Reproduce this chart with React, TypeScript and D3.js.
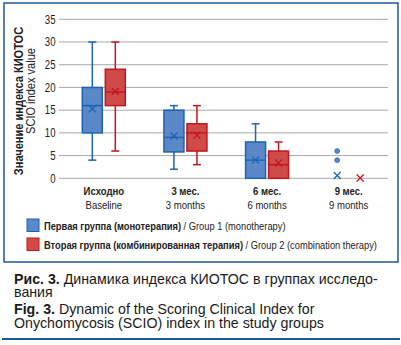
import React from "react";
import * as d3 from "d3";

const categoriesRu = ["Исходно", "3 мес.", "6 мес.", "9 мес."];
const categoriesEn = ["Baseline", "3 months", "6 months", "9 months"];
const groups = ["g1", "g2"];
// [min, q1, median, q3, max, mean]
const group1Stats = [
  [4, 10, 16, 20, 30, 15.3],
  [2, 5.8, 9, 15, 16, 9.3],
  [0, 0, 4, 8, 12, 4],
  [0, 0, 0, 0, 0, 0.6],
];
const group2Stats = [
  [6, 16, 19, 24, 30, 19.1],
  [3, 6, 10, 12, 16, 9.5],
  [0, 0, 3, 6, 8, 3.4],
  [0, 0, 0, 0, 0, 0.05],
];
const group1Outliers = [[], [], [], [6, 4]];
const group2Outliers = [[], [], [], []];
const yTicks = [0, 5, 10, 15, 20, 25, 30, 35];
const legendLabelsBold = ["Первая группа (монотерапия)", "Вторая группа (комбинированная терапия)"];
const legendLabelsReg = [" / Group 1 (monotherapy)", " / Group 2 (combination therapy)"];

const FILL = ["#5a88c9", "#cf4b47"];
const STROKE = ["#1e64b0", "#c3161f"];
const SANS = "'Liberation Sans', Arial, Helvetica, sans-serif";

function CText(props: { x: number; y: number; anchor?: string; bold?: boolean; size?: number; rotate?: number; sx?: number; children: any }) {
  const { x, y, anchor = "start", bold = false, size = 11.5, rotate = 0, sx = 0.83, children } = props;
  return (
    <text
      transform={`translate(${x},${y}) rotate(${rotate}) scale(${sx},1)`}
      textAnchor={anchor}
      fontFamily={SANS}
      fontWeight={bold ? "bold" : "normal"}
      fontSize={size}
      fill="#222"
    >
      {children}
    </text>
  );
}

export default function App() {
  const W = 401, H = 345;
  const y = d3.scaleLinear().domain([0, 35]).range([178.3, 19.3]);
  const x = d3.scaleBand().domain(categoriesRu).range([63, 389.5]);
  const bw = x.bandwidth();
  const boxW = 20;
  const off = [-11.5, 11.5];
  const stats = [group1Stats, group2Stats];
  const outs = [group1Outliers, group2Outliers];

  return (
    <svg width={W} height={H} style={{ position: "absolute", left: 0, top: 0, background: "#fff" }}>
      <rect x={4} y={3} width={394} height={259} fill="none" stroke="#1f5797" strokeWidth={1.5} />
      {yTicks.map((t) => (
        <g key={t}>
          <line x1={59} x2={388} y1={y(t)} y2={y(t)} stroke="#a9a9a9" strokeWidth={1} />
          <CText x={55.5} y={y(t) + 4.2} anchor="end" size={12} sx={0.8}>{t}</CText>
        </g>
      ))}
      <CText x={22.5} y={101} anchor="middle" bold rotate={-90} size={13} sx={0.85}>Значение индекса КИОТОС</CText>
      <CText x={35} y={91} anchor="middle" rotate={-90} size={13} sx={0.85}>SCIO index value</CText>
      {categoriesRu.map((c, i) => {
        const cx = (x(c) as number) + bw / 2;
        return (
          <g key={c}>
            <CText x={cx} y={195} anchor="middle" bold>{c}</CText>
            <CText x={cx} y={209} anchor="middle">{categoriesEn[i]}</CText>
            {groups.map((g, gi) => {
              const [mn, q1, med, q3, mx, mean] = stats[gi][i];
              const bx = cx + off[gi];
              const hasBox = q3 > q1;
              return (
                <g key={g}>
                  {hasBox && (
                    <>
                      <line x1={bx} x2={bx} y1={y(mx)} y2={y(q3)} stroke={STROKE[gi]} strokeWidth={1.5} />
                      <line x1={bx} x2={bx} y1={y(q1)} y2={y(mn)} stroke={STROKE[gi]} strokeWidth={1.5} />
                      <line x1={bx - 4} x2={bx + 4} y1={y(mx)} y2={y(mx)} stroke={STROKE[gi]} strokeWidth={1.5} />
                      <line x1={bx - 4} x2={bx + 4} y1={y(mn)} y2={y(mn)} stroke={STROKE[gi]} strokeWidth={1.5} />
                      <rect x={bx - boxW / 2} y={y(q3)} width={boxW} height={y(q1) - y(q3)} fill={FILL[gi]} stroke={STROKE[gi]} strokeWidth={1.5} />
                      <line x1={bx - boxW / 2} x2={bx + boxW / 2} y1={y(med)} y2={y(med)} stroke={STROKE[gi]} strokeWidth={1.5} />
                    </>
                  )}
                  <path
                    d={`M${bx - 3.5},${y(mean) - 3.5}L${bx + 3.5},${y(mean) + 3.5}M${bx - 3.5},${y(mean) + 3.5}L${bx + 3.5},${y(mean) - 3.5}`}
                    stroke={STROKE[gi]}
                    strokeWidth={1.3}
                    fill="none"
                  />
                  {outs[gi][i].map((v, k) => (
                    <circle key={k} cx={bx} cy={y(v)} r={2.4} fill={FILL[gi]} stroke={STROKE[gi]} strokeWidth={0.8} />
                  ))}
                </g>
              );
            })}
          </g>
        );
      })}
      {legendLabelsBold.map((l, i) => (
        <g key={l} transform={`translate(27,${219 + i * 19})`}>
          <rect x={0} y={0} width={12} height={12.5} fill={FILL[i]} stroke={STROKE[i]} strokeWidth={1} />
          <CText x={17} y={11} sx={0.81}>
            <tspan fontWeight="bold">{l}</tspan>
            <tspan>{legendLabelsReg[i]}</tspan>
          </CText>
        </g>
      ))}
      <text x={14} y={283.5} fontFamily={SANS} fontSize={14.2} fill="#1a1a1a">
        <tspan fontWeight="bold">Рис. 3.</tspan>
        <tspan> Динамика индекса КИОТОС в группах исследо-</tspan>
      </text>
      <text x={14} y={297} fontFamily={SANS} fontSize={14.2} fill="#1a1a1a">вания</text>
      <text x={14} y={314} fontFamily={SANS} fontSize={14.2} fill="#1a1a1a">
        <tspan fontWeight="bold">Fig. 3.</tspan>
        <tspan> Dynamic of the Scoring Clinical Index for</tspan>
      </text>
      <text x={14} y={327.5} fontFamily={SANS} fontSize={14.2} fill="#1a1a1a">Onychomycosis (SCIO) index in the study groups</text>
      <line x1={2} x2={400} y1={339} y2={339} stroke="#1f5797" strokeWidth={2} />
    </svg>
  );
}
